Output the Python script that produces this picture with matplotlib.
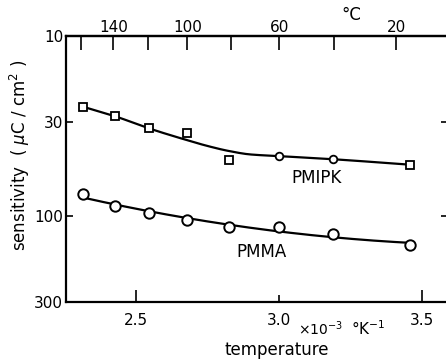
import numpy as np
import matplotlib
matplotlib.use("Agg")
import matplotlib.pyplot as plt
from matplotlib.ticker import FixedLocator, NullLocator, FixedFormatter

# data (x = 1000/T in 1/K, y = sensitivity in uC/cm2)
pmipk_x = [2.313, 2.425, 2.544, 2.677, 2.824, 3.002, 3.191, 3.459]
pmipk_y = [24.7, 27.9, 32.6, 34.5, 48.8, 46.5, 48.5, 52.0]

# the hand-drawn PMIPK line, read at a few x positions
curve_x = [2.313, 2.425, 2.544, 2.677, 2.75, 2.824, 2.90, 3.002, 3.191, 3.459]
curve_y = [24.7, 27.9, 32.6, 37.9, 40.9, 43.6, 45.6, 46.6, 48.5, 52.0]

pmma_x = [2.313, 2.425, 2.544, 2.677, 2.824, 3.002, 3.191, 3.459]
pmma_y = [75.7, 88.0, 97.0, 105.7, 116.0, 115.6, 126.9, 146.1]

y_ticks = [10, 30, 100, 300]
x_ticks = [2.5, 3.0, 3.5]
x_labels = ["2.5", "3.0", "3.5"]
c_major = [140, 100, 60, 20]
c_minor = [160, 120, 80, 40]


def pchip(x, y, xs):
    # monotone cubic (Fritsch-Carlson) so the hand-drawn line stays smooth
    x = np.asarray(x, float); y = np.asarray(y, float)
    h = np.diff(x); d = np.diff(y) / h
    m = np.zeros_like(y)
    for k in range(1, len(x) - 1):
        if d[k-1] * d[k] > 0:
            w1 = 2*h[k] + h[k-1]; w2 = h[k] + 2*h[k-1]
            m[k] = (w1 + w2) / (w1/d[k-1] + w2/d[k])
    m[0] = d[0]; m[-1] = d[-1]
    i = np.clip(np.searchsorted(x, xs) - 1, 0, len(h) - 1)
    t = (xs - x[i]) / h[i]
    h00 = 2*t**3 - 3*t**2 + 1; h10 = t**3 - 2*t**2 + t
    h01 = -2*t**3 + 3*t**2; h11 = t**3 - t**2
    return h00*y[i] + h10*h[i]*m[i] + h01*y[i+1] + h11*h[i]*m[i+1]


plt.rcParams['font.family'] = ['DejaVu Sans']

fig = plt.figure(figsize=(4.46, 3.63), dpi=100)
ax = fig.add_axes([66/446, 61.5/363, (448-66)/446, 265.5/363])

ax.set_yscale('log')
ax.set_xlim(2.255, 3.592)
ax.set_ylim(300, 10)

xs = np.linspace(curve_x[0], curve_x[-1], 300)
ax.plot(xs, 10**pchip(curve_x, np.log10(curve_y), xs), color='black', lw=1.6, zorder=2)
c2 = np.polyfit(pmma_x, np.log10(pmma_y), 2)
ax.plot(xs, 10**np.polyval(c2, xs), color='black', lw=1.6, zorder=2)

# markers: squares for PMIPK (small circles at 60/40 C), circles for PMMA
sq = [0, 1, 2, 3, 4, 7]
ci = [5, 6]
ax.plot([pmipk_x[i] for i in sq], [pmipk_y[i] for i in sq], ls='none', marker='s',
        ms=5.5, mfc='white', mec='black', mew=1.3, zorder=3)
ax.plot([pmipk_x[i] for i in ci], [pmipk_y[i] for i in ci], ls='none', marker='o',
        ms=5.5, mfc='white', mec='black', mew=1.3, zorder=3)
ax.plot(pmma_x, pmma_y, ls='none', marker='o', ms=7.5, mfc='white', mec='black',
        mew=1.4, zorder=3)

ax.text(3.132, 61.7, "PMIPK", fontsize=12, ha='center', va='center')
ax.text(2.941, 159, "PMMA", fontsize=12, ha='center', va='center')

# axes styling
for s in ax.spines.values():
    s.set_linewidth(1.6)

ax.yaxis.set_major_locator(FixedLocator(y_ticks))
ax.yaxis.set_major_formatter(FixedFormatter([str(v) for v in y_ticks]))
ax.yaxis.set_minor_locator(NullLocator())
ax.tick_params(axis='y', which='major', direction='in', length=5, width=1.2,
               right=True, labelsize=11, pad=2)

ax.xaxis.set_major_locator(FixedLocator(x_ticks))
ax.xaxis.set_major_formatter(FixedFormatter(x_labels))
ax.xaxis.set_minor_locator(NullLocator())
ax.tick_params(axis='x', which='major', direction='in', length=9, width=1.2,
               labelsize=11, pad=8)
ax.xaxis.get_major_ticks()[1].tick1line.set_markersize(5)

# celsius scale on top
sec = ax.secondary_xaxis('top', functions=(lambda x: 1000.0/x - 273.15,
                                           lambda c: 1000.0/(c + 273.15)))
sec.xaxis.set_major_locator(FixedLocator(c_major))
sec.xaxis.set_minor_locator(FixedLocator(c_minor))
sec.xaxis.set_major_formatter(FixedFormatter([str(v) for v in c_major]))
sec.tick_params(which='both', direction='in', length=10, width=1.2, labelsize=11, pad=1)
sec.spines['top'].set_linewidth(1.6)

fig.text(351/446, 1 - 15/363, "°C", fontsize=12, ha='center', va='center')
fig.text(320/446, 1 - 329/363, r"$\times10^{-3}$", fontsize=10, ha='center', va='center')
fig.text(368/446, 1 - 329/363, r"°K$^{-1}$", fontsize=11, ha='center', va='center')
fig.text(277/446, 1 - 350/363, "temperature", fontsize=12, ha='center', va='center')
fig.text(20/446, 1 - 155/363, r"sensitivity  ( $\mu$C / cm$^2$ )", fontsize=12,
         rotation=90, ha='center', va='center')

fig.savefig("out.png", dpi=100, facecolor='white')
